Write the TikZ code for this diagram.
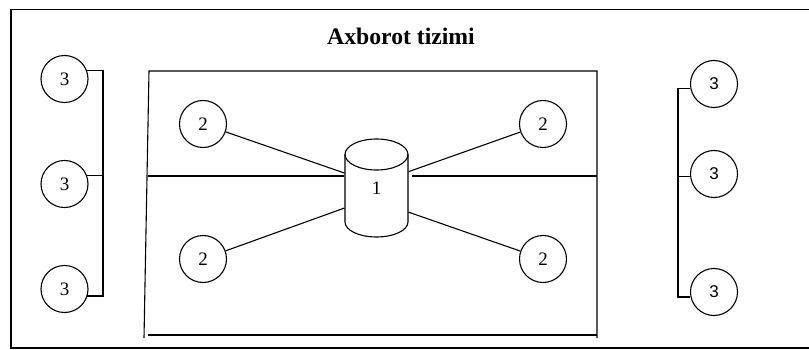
\documentclass[tikz,border=0pt]{standalone}
\usepackage{fontspec}
\setmainfont{Liberation Serif}
\newfontfamily\rightfont{Liberation Sans}
\usepackage{tikz}

\begin{document}
\begin{tikzpicture}[
		x=1pt, y=-1pt,
		line width=1.1pt,
		unit/.style={circle, draw, minimum size=47pt, inner sep=0pt, font=\fontsize{19}{19}\selectfont},
		runit/.style={unit, font=\rightfont\fontsize{17}{17}\selectfont},
		db/.style={rectangle, minimum width=63pt, minimum height=98pt, inner sep=0pt, font=\fontsize{19}{19}\selectfont}
	]
  \useasboundingbox (0,0) rectangle (809,350);
  \draw [line width=1.6pt] (815,9.5) -- (11,9.5) -- (11,348) -- (815,348);
  \node (title) [font=\bfseries\fontsize{23.7}{24}\selectfont] at (401,36) {Axborot tizimi};

  \node (L1) [unit] at (64.5,79) {3};
  \node (L2) [unit] at (64.5,184) {3};
  \node (L3) [unit] at (64.5,289) {3};
  \node (R1) [runit] at (714,84) {3};
  \node (R2) [runit] at (714,174) {3};
  \node (R3) [runit] at (714,292) {3};

  \node (P1) [unit] at (203,124) {2};
  \node (P2) [unit] at (203,259) {2};
  \node (P3) [unit] at (543,124) {2};
  \node (P4) [unit] at (543,259) {2};

  \node (cyl) [db] at (376.5,188) {1};
  \draw (345,154.5) -- (345,222) arc[start angle=180, end angle=360, x radius=31.5pt, y radius=15pt] -- (408,154.5);
  \draw (376.5,154.5) ellipse [x radius=31.5pt, y radius=15.5pt];

  \coordinate (midL) at (148,176);
  \coordinate (midR) at (597,176);
  \draw (144,338) -- (149,71) -- (597,71) -- (597,338);
  \draw (148,335) -- (597,335);
  \draw (midL) -- (midL -| cyl.west);
  \draw (412,176) -- (midR);

  \draw (P1) -- (cyl.155);
  \draw (P2) -- (cyl.212);
  \draw (P3) -- (cyl.27);
  \draw (P4) -- (cyl.323);

  \coordinate (bl) at (103,0);
  \coordinate (br) at (678,0);
  \draw (L1.20) -- (L1.20 -| bl) -- (L3.-17 -| bl) -- (L3.-17);
  \draw (L2.20) -- (L2.20 -| bl);
  \draw (R1.190) -- (R1.190 -| br) -- (R3.192 -| br) -- (R3.192);
  \draw (R2.187) -- (R2.187 -| br);
\end{tikzpicture}
\end{document}
